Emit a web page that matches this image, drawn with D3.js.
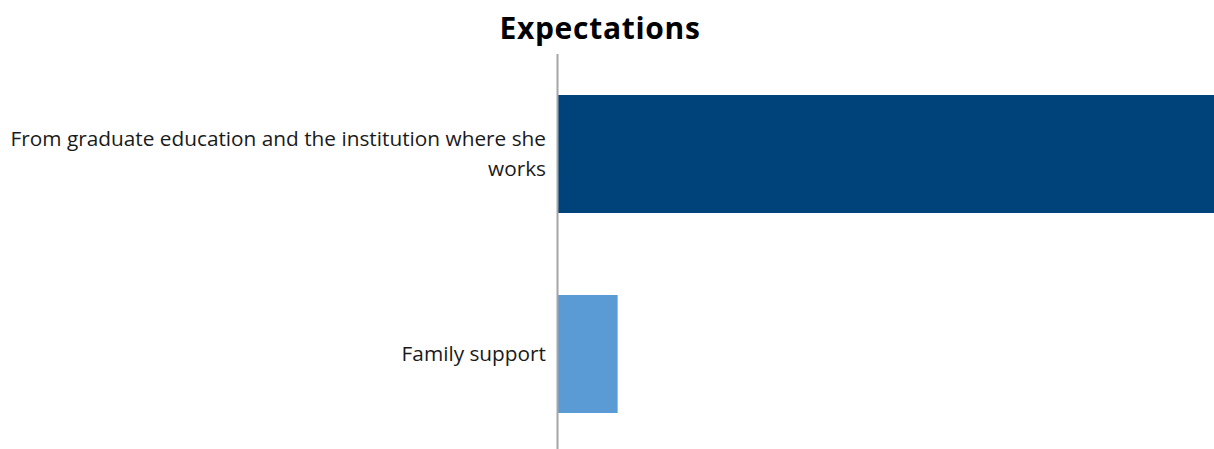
<!DOCTYPE html>
<html>
<head>
<meta charset="utf-8">
<script src="https://cdn.jsdelivr.net/npm/d3@7"></script>
<style>
  body { margin: 0; background: #fff; }
  svg { display: block; font-family: "Open Sans", "Noto Sans", sans-serif; }
</style>
</head>
<body>
<div id="chart"></div>
<script>
// data
var categories = ["From graduate education and the institution where she works", "Family support"];
var values = [11, 1];
var colors = ["#00427A", "#5B9BD5"];
var title = "Expectations";

var W = 1214, H = 449;
var margin = {top: 54, right: 0, bottom: 0, left: 558};

var svg = d3.select("#chart")
  .append("svg")
    .attr("width", W)
    .attr("height", H);

svg.append("text")
    .attr("x", 600)
    .attr("y", 39)
    .attr("text-anchor", "middle")
    .style("font-size", "30px")
    .style("font-weight", "bold")
    .style("letter-spacing", "0.7px")
    .style("fill", "#000")
    .text(title);

var x = d3.scaleLinear()
    .domain([0, d3.max(values)])
    .range([margin.left, W - margin.right]);

var y = d3.scaleBand()
    .domain(categories)
    .range([margin.top, margin.top + 400])
    .paddingInner(0.41)
    .paddingOuter(0.205);

// bars
svg.selectAll("rect.bar")
  .data(values)
  .enter()
  .append("rect")
    .attr("class", "bar")
    .attr("x", x(0))
    .attr("y", function(d, i) { return y(categories[i]); })
    .attr("width", function(d) { return x(d) - x(0); })
    .attr("height", y.bandwidth())
    .style("fill", function(d, i) { return colors[i]; });

// axis line
svg.append("line")
    .attr("x1", x(0) - 0.5).attr("x2", x(0) - 0.5)
    .attr("y1", margin.top).attr("y2", H)
    .style("stroke", "#a6a6a6")
    .style("stroke-width", 2);

// category labels, wrapped
var maxLabelWidth = 545;
var lineH = 30;
var labels = svg.selectAll("text.cat")
  .data(categories)
  .enter()
  .append("text")
    .attr("class", "cat")
    .attr("text-anchor", "end")
    .style("font-size", "20.8px")
    .style("fill", "#1a1a1a");

labels.each(function(d) {
  var t = d3.select(this);
  var words = d.split(" ");
  var lines = [], cur = [];
  var tmp = t.append("tspan");
  words.forEach(function(w) {
    cur.push(w);
    tmp.text(cur.join(" "));
    if (tmp.node().getComputedTextLength() > maxLabelWidth && cur.length > 1) {
      cur.pop();
      lines.push(cur.join(" "));
      cur = [w];
    }
  });
  lines.push(cur.join(" "));
  tmp.remove();
  var cy = y(d) + y.bandwidth() / 2;
  var startY = cy - (lines.length - 1) * lineH / 2 + 7;
  lines.forEach(function(l, i) {
    t.append("tspan")
      .attr("x", x(0) - 12)
      .attr("y", startY + i * lineH)
      .text(l);
  });
});
</script>
</body>
</html>
